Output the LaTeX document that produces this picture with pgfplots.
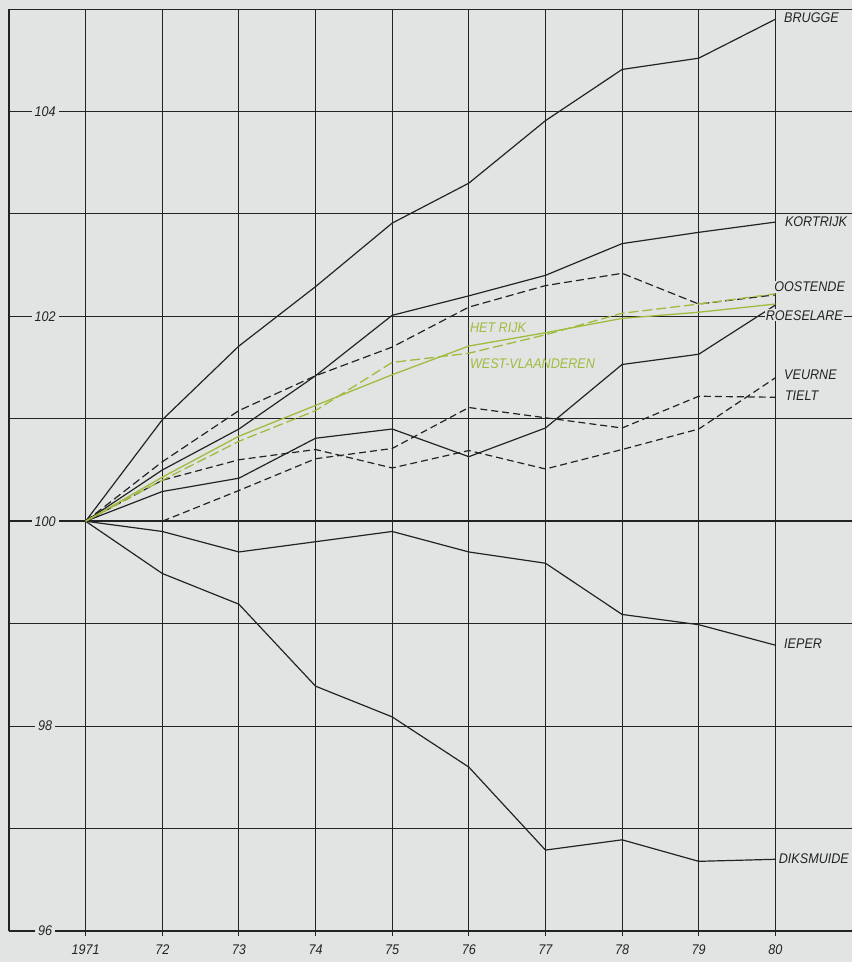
\documentclass[border=0pt]{standalone}
\usepackage{fontspec}
\setmainfont{Liberation Sans}
\newfontfamily\lab[FakeStretch=0.9]{Liberation Sans}
\usepackage{pgfplots}
\pgfplotsset{compat=1.18}
\definecolor{bg}{RGB}{226,228,228}
\definecolor{ink}{RGB}{35,35,35}
\definecolor{grn}{RGB}{158,188,62}
\tikzset{
 lbl/.style={font=\lab\itshape\fontsize{14}{16}\selectfont, text=ink, inner sep=1pt, fill=bg, anchor=west},
 glbl/.style={font=\lab\itshape\fontsize{14}{16}\selectfont, text=grn, inner sep=1pt, anchor=west},
 dl/.style={dash pattern=on 8pt off 4pt},
}
\begin{document}
\begin{tikzpicture}
\fill[bg] (-9pt,-31pt) rectangle (843pt,931pt);
\useasboundingbox (-9pt,-31pt) rectangle (843pt,931pt);
\begin{axis}[
 at={(0,0)}, anchor=south west,
 scale only axis, width=843pt, height=922pt,
 xmin=1970, xmax=1981, ymin=96, ymax=105,
 axis x line*=bottom, axis y line*=left,
 axis line style={-, ink, line width=1.1pt},
 xtick={1971,...,1980}, xticklabels={1971,72,73,74,75,76,77,78,79,80},
 ytick={96,98,102,104}, minor ytick={97,99,101,103,105},
 grid=both, grid style={ink, line width=1pt}, minor grid style={ink, line width=1pt},
 tick align=outside, major tick length=5pt, minor tick length=0pt,
 xtick style={ink, line width=1pt}, ytick style={draw=none},
 /pgf/number format/assume math mode=true,
 ticklabel style={font=\lab\itshape\fontsize{14}{16}\selectfont, text=ink},
 xticklabel style={yshift=-5pt},
 yticklabel style={anchor=center, xshift=41pt, fill=bg, inner sep=3pt},
 extra y ticks={100}, extra y tick labels={100},
 extra y tick style={grid style={ink, line width=2.2pt}},
 clip=false,
]
% BRUGGE
\addplot[ink, line width=1.2pt] coordinates {(1971,100) (1972,100.99) (1973,101.71) (1974,102.29) (1975,102.91) (1976,103.30) (1977,103.91) (1978,104.41) (1979,104.52) (1980,104.90)};
% KORTRIJK
\addplot[ink, line width=1.2pt] coordinates {(1971,100) (1972,100.50) (1973,100.90) (1974,101.42) (1975,102.01) (1976,102.20) (1977,102.40) (1978,102.71) (1979,102.82) (1980,102.92)};
% OOSTENDE
\addplot[ink, line width=1.2pt, dl] coordinates {(1971,100) (1972,100.58) (1973,101.08) (1974,101.42) (1975,101.70) (1976,102.09) (1977,102.30) (1978,102.42) (1979,102.12) (1980,102.21)};
% ROESELARE
\addplot[ink, line width=1.2pt] coordinates {(1971,100) (1972,100.29) (1973,100.42) (1974,100.81) (1975,100.90) (1976,100.63) (1977,100.91) (1978,101.53) (1979,101.63) (1980,102.11)};
% VEURNE
\addplot[ink, line width=1.2pt, dash pattern=on 7pt off 4pt] coordinates {(1971,100) (1972,100.40) (1973,100.60) (1974,100.70) (1975,100.52) (1976,100.69) (1977,100.51) (1978,100.70) (1979,100.90) (1980,101.40)};
% TIELT
\addplot[ink, line width=1.2pt, dash pattern=on 7pt off 4pt] coordinates {(1971,100) (1972,100.00) (1973,100.30) (1974,100.61) (1975,100.71) (1976,101.11) (1977,101.01) (1978,100.91) (1979,101.22) (1980,101.21)};
% IEPER
\addplot[ink, line width=1.2pt] coordinates {(1971,100) (1972,99.90) (1973,99.70) (1974,99.80) (1975,99.90) (1976,99.70) (1977,99.59) (1978,99.09) (1979,98.99) (1980,98.79)};
% DIKSMUIDE
\addplot[ink, line width=1.2pt] coordinates {(1971,100) (1972,99.49) (1973,99.19) (1974,98.39) (1975,98.09) (1976,97.60) (1977,96.79) (1978,96.89) (1979,96.68) (1980,96.70)};
% HET RIJK
\addplot[grn, line width=1.3pt] coordinates {(1971,100) (1972,100.43) (1973,100.83) (1974,101.13) (1975,101.43) (1976,101.71) (1977,101.84) (1978,101.98) (1979,102.04) (1980,102.12)};
% WEST-VLAANDEREN
\addplot[grn, line width=1.3pt, dash pattern=on 10pt off 4pt] coordinates {(1971,100) (1972,100.40) (1973,100.78) (1974,101.08) (1975,101.55) (1976,101.64) (1977,101.82) (1978,102.03) (1979,102.12) (1980,102.22)};

\node[lbl] at (axis cs:1980.10,104.92) {BRUGGE};
\node[lbl] at (axis cs:1980.11,102.92) {KORTRIJK};
\node[lbl] at (axis cs:1979.97,102.29) {OOSTENDE};
\node[lbl] at (axis cs:1979.86,102.01) {ROESELARE};
\node[lbl] at (axis cs:1980.10,101.43) {VEURNE};
\node[lbl] at (axis cs:1980.11,101.23) {TIELT};
\node[lbl] at (axis cs:1980.10,98.80) {IEPER};
\node[lbl] at (axis cs:1980.03,96.71) {DIKSMUIDE};
\node[glbl] at (axis cs:1976.00,101.89) {HET RIJK};
\node[glbl] at (axis cs:1976.00,101.54) {WEST-VLAANDEREN};
\end{axis}
\end{tikzpicture}
\end{document}
